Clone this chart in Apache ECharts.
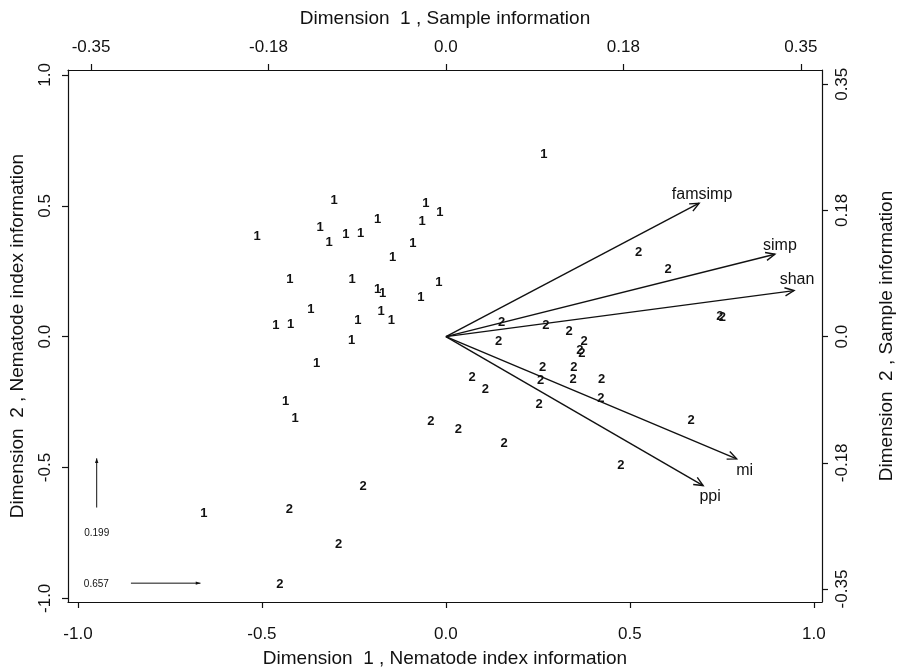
<!DOCTYPE html>
<html>
<head>
<meta charset="utf-8">
<script src="https://cdn.jsdelivr.net/npm/echarts@6.0.0/dist/echarts.min.js"></script>
<style>
html, body { margin: 0; padding: 0; background: #fff; }
#main { width: 899px; height: 670px; }
</style>
</head>
<body>
<div id="main"></div>
<script>
// samples of group 1 (top / right axes, sample units)
var g1_x = [-0.1102, -0.0197, -0.0059, -0.0674, -0.0234, -0.1861, -0.1240, -0.0986, -0.0841, -0.1151,
            -0.0325, -0.0526, -0.1538, -0.0924, -0.0674, -0.0624, -0.0069, -0.0247, -0.1331, -0.0638,
            -0.0539, -0.0868, -0.1677, -0.1532, -0.0930, -0.1275, -0.1581, -0.1486, -0.2387, 0.0966]
var g1_y = [0.1896, 0.1850, 0.1720, 0.1628, 0.1595, 0.1387, 0.1517, 0.1411, 0.1434, 0.1313,
            0.1286, 0.1096, 0.0800, 0.0796, 0.0657, 0.0602, 0.0754, 0.0546, 0.0384, 0.0356,
            0.0222, 0.0222, 0.0153, 0.0176, -0.0046, -0.0374, -0.0892, -0.1137, -0.2449, 0.2530]
// samples of group 2
var g2_x = [0.0549, 0.0986, 0.1216, 0.0520, 0.1364, 0.1321, 0.1341, 0.0954, 0.1262, 0.0934,
            0.1255, 0.1536, 0.0259, 0.0390, 0.1529, 0.0920, 0.0123, 0.0575, -0.0148, -0.0816,
            -0.1545, -0.1058, -0.1637, 0.1900, 0.2192, 0.2702, 0.2727, 0.2419, 0.1726]
var g2_y = [0.0200, 0.0153, 0.0079, -0.0060, -0.0060, -0.0191, -0.0226, -0.0424, -0.0424, -0.0601,
            -0.0591, -0.0591, -0.0563, -0.0732, -0.0857, -0.0940, -0.1284, -0.1479, -0.1169, -0.2071,
            -0.2390, -0.2875, -0.3430, 0.1171, 0.0935, 0.0280, 0.0266, -0.1155, -0.1784]

// nematode indices (bottom / left axes)
var var_names = ['famsimp', 'simp', 'shan', 'mi', 'ppi']
var var_x = [0.688, 0.894, 0.946, 0.790, 0.699]
var var_y = [0.510, 0.315, 0.176, -0.467, -0.569]

// scale bars in the lower left corner
var scale_labels = ['0.657', '0.199']
var scale_from = [[-0.856, -0.942], [-0.949, -0.653]]
var scale_to = [[-0.667, -0.942], [-0.949, -0.465]]
var scale_text_at = [[-0.950, -0.947], [-0.949, -0.751]]

// ticks
var var_ticks = [-1, -0.5, 0, 0.5, 1]
var sample_ticks = [-0.35, -0.175, 0, 0.175, 0.35]
var sample_tick_labels = ['-0.35', '-0.18', '0.0', '0.18', '0.35']

var FONT = '"Liberation Sans", Arial, sans-serif'
var INK = '#111'

// label nudges (px) for the arrow names
var name_nudge = { famsimp: [3, -9], simp: [5, -9], shan: [3, -11], mi: [8, 12], ppi: [7, 11] }

function sampleLabel(v) {
  for (var i = 0; i < sample_ticks.length; i++) {
    if (Math.abs(sample_ticks[i] - v) < 1e-6) return sample_tick_labels[i]
  }
  return ''
}

function pairs(xs, ys) {
  return xs.map(function (x, i) { return [x, ys[i]] })
}

function textRenderer(size, weight) {
  return function (params, api) {
    var p = api.coord([api.value(0), api.value(1)])
    var txt = api.value(2)
    var nd = name_nudge[txt] || [0, 0]
    return {
      type: 'text',
      x: p[0] + nd[0],
      y: p[1] + nd[1],
      style: {
        text: String(txt),
        font: weight + ' ' + size + 'px ' + FONT,
        fill: INK,
        align: 'center',
        verticalAlign: 'middle'
      }
    }
  }
}

function arrowRenderer(headLen, filled, lw) {
  return function (params, api) {
    var a = api.coord([api.value(0), api.value(1)])
    var b = api.coord([api.value(2), api.value(3)])
    var ang = Math.atan2(b[1] - a[1], b[0] - a[0])
    var s = filled ? 0.35 : 0.42
    var h1 = [b[0] - headLen * Math.cos(ang - s), b[1] - headLen * Math.sin(ang - s)]
    var h2 = [b[0] - headLen * Math.cos(ang + s), b[1] - headLen * Math.sin(ang + s)]
    var head = filled
      ? { type: 'polygon', shape: { points: [b, h1, h2] }, style: { fill: INK } }
      : { type: 'polyline', shape: { points: [h1, b, h2] }, style: { stroke: INK, lineWidth: lw, fill: null } }
    return {
      type: 'group',
      children: [
        { type: 'line', shape: { x1: a[0], y1: a[1], x2: b[0], y2: b[1] }, style: { stroke: INK, lineWidth: lw } },
        head
      ]
    }
  }
}

var g1_data = pairs(g1_x, g1_y).map(function (p) { return [p[0], p[1], '1'] })
var g2_data = pairs(g2_x, g2_y).map(function (p) { return [p[0], p[1], '2'] })
var arrow_data = var_names.map(function (n, i) { return [0, 0, var_x[i], var_y[i]] })
var arrow_names = var_names.map(function (n, i) { return [var_x[i], var_y[i], n] })
var scale_data = scale_from.map(function (f, i) { return [f[0], f[1], scale_to[i][0], scale_to[i][1]] })
var scale_text = scale_text_at.map(function (p, i) { return [p[0], p[1], scale_labels[i]] })

var axisLineStyle = { show: true, onZero: false, lineStyle: { color: INK, width: 1.2 } }
var tickStyle = { show: true, inside: false, length: 6, lineStyle: { color: INK, width: 1.2 } }

var myChart = echarts.init(document.getElementById('main'))
myChart.setOption({
  animation: false,
  backgroundColor: '#fff',
  textStyle: { fontFamily: FONT },
  grid: { left: 68, right: 77, top: 70, bottom: 68, containLabel: false, outerBoundsMode: 'none' },
  xAxis: [{
    type: 'value', position: 'bottom',
    min: -1.027, max: 1.022,
    axisLine: axisLineStyle,
    axisTick: Object.assign({ customValues: var_ticks }, tickStyle),
    axisLabel: { customValues: var_ticks, margin: 24, fontSize: 17, color: INK, fontFamily: FONT,
      formatter: function (v) { return v.toFixed(1) } },
    splitLine: { show: false },
    name: 'Dimension  1 , Nematode index information',
    nameLocation: 'middle', nameGap: 47,
    nameTextStyle: { fontSize: 19, color: INK, fontFamily: FONT }
  }, {
    type: 'value', position: 'top',
    min: -0.3727, max: 0.3709,
    axisLine: axisLineStyle,
    axisTick: Object.assign({ customValues: sample_ticks }, tickStyle),
    axisLabel: { customValues: sample_ticks, margin: 14, fontSize: 17, color: INK, fontFamily: FONT,
      formatter: sampleLabel },
    splitLine: { show: false },
    name: 'Dimension  1 , Sample information',
    nameLocation: 'middle', nameGap: 42,
    nameTextStyle: { fontSize: 19, color: INK, fontFamily: FONT }
  }],
  yAxis: [{
    type: 'value', position: 'left',
    min: -1.014, max: 1.019,
    axisLine: axisLineStyle,
    axisTick: Object.assign({ customValues: var_ticks }, tickStyle),
    axisLabel: { customValues: var_ticks, margin: 14, rotate: 90, fontSize: 17, color: INK, fontFamily: FONT,
      formatter: function (v) { return v.toFixed(1) } },
    splitLine: { show: false },
    name: 'Dimension  2 , Nematode index information',
    nameLocation: 'middle', nameGap: 41, nameRotate: 90,
    nameTextStyle: { fontSize: 19, color: INK, fontFamily: FONT }
  }, {
    type: 'value', position: 'right',
    min: -0.368, max: 0.3698,
    axisLine: axisLineStyle,
    axisTick: Object.assign({ customValues: sample_ticks }, tickStyle),
    axisLabel: { customValues: sample_ticks, margin: 12, rotate: 90, fontSize: 17, color: INK, fontFamily: FONT,
      formatter: sampleLabel },
    splitLine: { show: false },
    name: 'Dimension  2 , Sample information',
    nameLocation: 'middle', nameGap: 55, nameRotate: 90,
    nameTextStyle: { fontSize: 19, color: INK, fontFamily: FONT }
  }],
  series: [{
    name: 'group 1', type: 'custom', xAxisIndex: 1, yAxisIndex: 1,
    renderItem: textRenderer(13, 'bold'),
    encode: { x: 0, y: 1 },
    data: g1_data
  }, {
    name: 'group 2', type: 'custom', xAxisIndex: 1, yAxisIndex: 1,
    renderItem: textRenderer(13, 'bold'),
    encode: { x: 0, y: 1 },
    data: g2_data
  }, {
    name: 'indices', type: 'custom', xAxisIndex: 0, yAxisIndex: 0,
    renderItem: arrowRenderer(10, false, 1.4),
    encode: { x: [0, 2], y: [1, 3] },
    data: arrow_data
  }, {
    name: 'index names', type: 'custom', xAxisIndex: 0, yAxisIndex: 0,
    renderItem: textRenderer(16, 'normal'),
    encode: { x: 0, y: 1 },
    data: arrow_names
  }, {
    name: 'scale bars', type: 'custom', xAxisIndex: 0, yAxisIndex: 0,
    renderItem: arrowRenderer(5, true, 1),
    encode: { x: [0, 2], y: [1, 3] },
    data: scale_data
  }, {
    name: 'scale text', type: 'custom', xAxisIndex: 0, yAxisIndex: 0,
    renderItem: textRenderer(10, 'normal'),
    encode: { x: 0, y: 1 },
    data: scale_text
  }]
})
</script>
</body>
</html>
